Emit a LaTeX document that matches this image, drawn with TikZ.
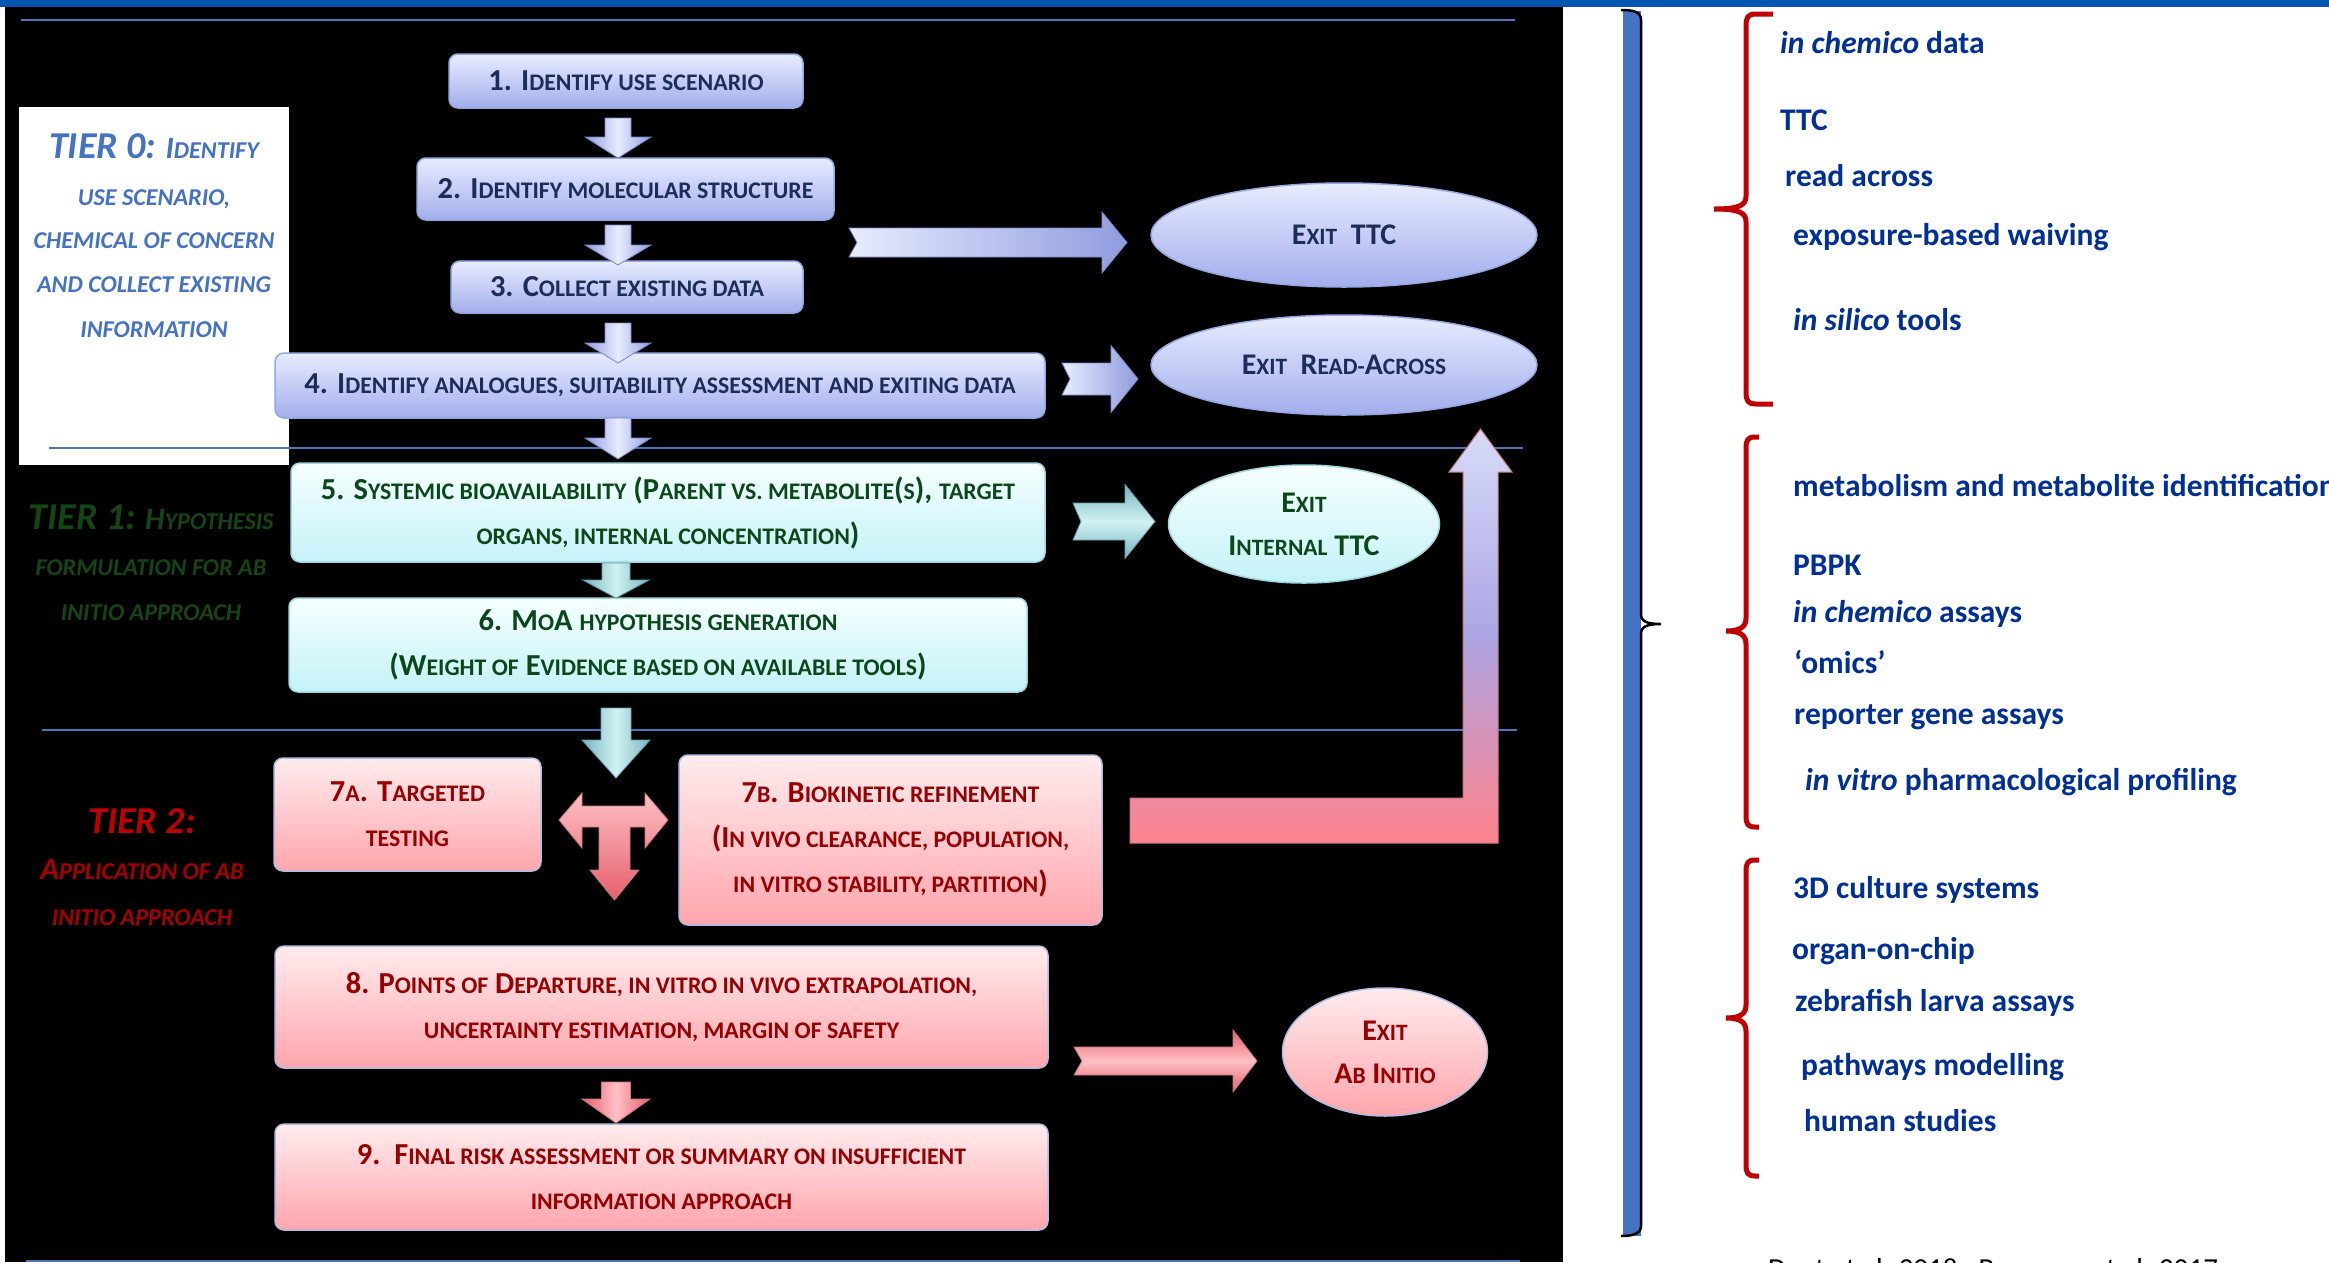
\documentclass[tikz,border=0pt]{standalone}
\usepackage{fontspec}
\setmainfont{Carlito}
\usepackage{graphicx}
\usetikzlibrary{shapes.geometric}

\definecolor{topbar}{RGB}{5,84,176}
\definecolor{tierline}{RGB}{74,118,190}
\definecolor{navytxt}{RGB}{28,45,90}
\definecolor{greentxt}{RGB}{10,72,25}
\definecolor{redtxt}{RGB}{150,0,0}
\definecolor{tierzero}{RGB}{68,114,196}
\definecolor{tierone}{RGB}{20,70,20}
\definecolor{tiertwo}{RGB}{192,0,0}
\definecolor{tiertwod}{RGB}{165,0,0}
\definecolor{listc}{RGB}{0,48,150}
\definecolor{bracered}{RGB}{192,0,0}
\definecolor{barblue}{RGB}{68,114,196}
\definecolor{bbTop}{RGB}{232,236,255}
\definecolor{bbBot}{RGB}{162,174,236}
\definecolor{bbEdge}{RGB}{150,168,225}
\definecolor{cbTop}{RGB}{246,255,255}
\definecolor{cbBot}{RGB}{196,242,247}
\definecolor{cbEdge}{RGB}{160,215,222}
\definecolor{rbTop}{RGB}{255,236,238}
\definecolor{rbBot}{RGB}{255,165,172}
\definecolor{rbEdge}{RGB}{175,190,225}
\definecolor{alDark}{RGB}{145,156,222}
\definecolor{alLight}{RGB}{232,236,255}
\definecolor{alEdge}{RGB}{120,135,200}
\definecolor{acDark}{RGB}{118,182,190}
\definecolor{acLight}{RGB}{210,242,244}
\definecolor{acEdge}{RGB}{100,160,170}
\definecolor{apDark}{RGB}{230,95,108}
\definecolor{apLight}{RGB}{255,192,197}
\definecolor{apEdge}{RGB}{200,120,130}
\definecolor{lTop}{RGB}{215,220,248}
\definecolor{lMid}{RGB}{172,165,228}
\definecolor{lBot}{RGB}{255,130,140}

\newcommand{\smcp}[1]{\scalebox{0.78}{#1}}
\newcommand{\boxfont}{\fontsize{30.5}{45}\selectfont\bfseries}
\newcommand{\ellfont}{\fontsize{30}{43}\selectfont\bfseries}
\newcommand{\tierfont}{\fontsize{31}{43}\selectfont\bfseries\itshape}
\newcommand{\tierbig}{\fontsize{38}{38}\selectfont}
\newcommand{\listfont}{\fontsize{31.5}{38}\selectfont\bfseries}

% down block arrow: style, cx, ytop, yhead, ytip, halfshaft, halfhead
\newcommand{\blockdown}[7]{%
  \path[#1] (#2-#6,#3) -- (#2+#6,#3) -- (#2+#6,#4) -- (#2+#7,#4) -- (#2,#5)
    -- (#2-#7,#4) -- (#2-#6,#4) -- cycle;}
% right block arrow with notched tail: style, cy, xleft, xhead, xtip, halfshaft, halfhead
\newcommand{\blockright}[7]{%
  \path[#1] (#3,#2-#6) -- (#4,#2-#6) -- (#4,#2-#7) -- (#5,#2) -- (#4,#2+#7)
    -- (#4,#2+#6) -- (#3,#2+#6) -- (#3+8,#2) -- cycle;}

\tikzset{
  flowbox/.style={rectangle, rounded corners=9pt, line width=1.5pt, align=center,
    inner sep=0pt, font=\boxfont},
  bluebox/.style={flowbox, top color=bbTop, bottom color=bbBot, draw=bbEdge, text=navytxt},
  cyanbox/.style={flowbox, top color=cbTop, bottom color=cbBot, draw=cbEdge, text=greentxt},
  redbox/.style={flowbox, top color=rbTop, bottom color=rbBot, draw=rbEdge, text=redtxt},
  exitell/.style={ellipse, line width=1.5pt, align=center, inner sep=0pt, font=\ellfont},
  blueell/.style={exitell, top color=bbTop, bottom color=bbBot, draw=bbEdge, text=navytxt},
  cyanell/.style={exitell, top color=cbTop, bottom color=cbBot, draw=cbEdge, text=greentxt},
  redell/.style={exitell, top color=rbTop, bottom color=rbBot, draw=rbEdge, text=redtxt},
  downlav/.style={left color=alDark, right color=alDark, middle color=alLight, draw=alEdge, line width=0.8pt},
  downcyan/.style={left color=acDark, right color=acDark, middle color=acLight, draw=acEdge, line width=0.8pt},
  downpink/.style={left color=apDark, right color=apDark, middle color=apLight, draw=apEdge, line width=0.8pt},
  rightlav/.style={left color=alLight, right color=alDark, draw=alEdge, line width=0.8pt},
  rightcyan/.style={top color=acDark, bottom color=acDark, middle color=acLight, draw=acEdge, line width=0.8pt},
  rightpink/.style={top color=apDark, bottom color=apDark, middle color=apLight, draw=apEdge, line width=0.8pt},
  tiersep/.style={draw=tierline, line width=2.5pt},
  tierlbl/.style={anchor=base, inner sep=0pt, font=\tierfont},
  listitem/.style={anchor=base west, inner sep=0pt, font=\listfont, text=listc},
  redbrace/.style={draw=bracered, line width=5pt},
}

\begin{document}
\begin{tikzpicture}[x=1pt,y=-1pt]
\useasboundingbox (0,0) rectangle (2329,1262);
\fill[white] (0,0) rectangle (2329,1262);
\fill[black] (5,7) rectangle (1563,1262);
\fill[topbar] (0,0) rectangle (2329,7);
\fill[white] (19,107) rectangle (289,465);

% separator lines
\draw[tiersep] (21,20) -- (1515,20);
\draw[tiersep] (49,448) -- (1523,448);
\draw[tiersep] (42,730) -- (1517,730);
\draw[tiersep] (26,1261) -- (1520,1261);

% tier labels
\node[tierlbl, text=tierzero] (t0a) at (154,158) {{\tierbig TIER 0:} I\smcp{DENTIFY}};
\node[tierlbl, text=tierzero] (t0b) at (154,205) {\smcp{USE SCENARIO,}};
\node[tierlbl, text=tierzero] (t0c) at (154,248) {\smcp{CHEMICAL OF CONCERN}};
\node[tierlbl, text=tierzero] (t0d) at (154,292) {\smcp{AND COLLECT EXISTING}};
\node[tierlbl, text=tierzero] (t0e) at (154,337) {\smcp{INFORMATION}};

\node[tierlbl, text=tierone] (t1a) at (151,529) {{\tierbig TIER 1:} H\smcp{YPOTHESIS}};
\node[tierlbl, text=tierone] (t1b) at (151,575) {\smcp{FORMULATION FOR AB}};
\node[tierlbl, text=tierone] (t1c) at (151,620) {\smcp{INITIO APPROACH}};

\node[tierlbl, text=tiertwo] (t2a) at (142,833) {{\tierbig TIER 2:}};
\node[tierlbl, text=tiertwod] (t2b) at (142,879) {A\smcp{PPLICATION OF AB}};
\node[tierlbl, text=tiertwod] (t2c) at (142,925) {\smcp{INITIO APPROACH}};

% boxes
\node[bluebox, minimum width=354pt, minimum height=54pt] (b1) at (626,81) {1. I\smcp{DENTIFY USE SCENARIO}};
\node[bluebox, minimum width=417pt, minimum height=62pt] (b2) at (625.5,189) {2. I\smcp{DENTIFY MOLECULAR STRUCTURE}};
\node[bluebox, minimum width=352pt, minimum height=52pt] (b3) at (627,287) {3. C\smcp{OLLECT EXISTING DATA}};
\node[bluebox, minimum width=770pt, minimum height=65pt] (b4) at (660,385.5) {4. I\smcp{DENTIFY ANALOGUES, SUITABILITY ASSESSMENT AND EXITING DATA}};
\node[cyanbox, minimum width=754pt, minimum height=99pt] (b5) at (668,512.5)
  {5. S\smcp{YSTEMIC BIOAVAILABILITY} (P\smcp{ARENT VS. METABOLITE}(\smcp{S}), \smcp{TARGET}\\
   \smcp{ORGANS, INTERNAL CONCENTRATION})};
\node[cyanbox, minimum width=738pt, minimum height=94pt] (b6) at (658,645)
  {6. M\smcp{O}A \smcp{HYPOTHESIS GENERATION}\\
   (W\smcp{EIGHT OF} E\smcp{VIDENCE BASED ON AVAILABLE TOOLS})};
\node[redbox, minimum width=267pt, minimum height=113pt] (b7a) at (407.5,814.5)
  {7\smcp{A}. T\smcp{ARGETED}\\ \smcp{TESTING}};
\node[redbox, minimum width=423pt, minimum height=170pt] (b7b) at (890.5,840)
  {7\smcp{B}. B\smcp{IOKINETIC REFINEMENT}\\
   (I\smcp{N VIVO CLEARANCE, POPULATION,}\\
   \smcp{IN VITRO STABILITY, PARTITION})};
\node[redbox, minimum width=773pt, minimum height=122pt] (b8) at (661.5,1007)
  {8. P\smcp{OINTS OF} D\smcp{EPARTURE, IN VITRO IN VIVO EXTRAPOLATION,}\\
   \smcp{UNCERTAINTY ESTIMATION, MARGIN OF SAFETY}};
\node[redbox, minimum width=773pt, minimum height=106pt] (b9) at (661.5,1177)
  {9.\ \ F\smcp{INAL RISK ASSESSMENT OR SUMMARY ON INSUFFICIENT}\\
   \smcp{INFORMATION APPROACH}};

% exits
\node[blueell, minimum width=386pt, minimum height=104pt] (e1) at (1344,235) {E\smcp{XIT}\ \ TTC};
\node[blueell, minimum width=386pt, minimum height=100pt] (e2) at (1344,365) {E\smcp{XIT}\ \ R\smcp{EAD-}A\smcp{CROSS}};
\node[cyanell, minimum width=271pt, minimum height=118pt] (e3) at (1304,524) {E\smcp{XIT}\\ I\smcp{NTERNAL} TTC};
\node[redell, minimum width=205pt, minimum height=128pt] (e4) at (1385,1052) {E\smcp{XIT}\\ A\smcp{B} I\smcp{NITIO}};

% down arrows
\blockdown{downlav}{618}{118}{137}{158}{13}{33}
\blockdown{downlav}{618}{225}{245}{265}{13}{33}
\blockdown{downlav}{618}{323}{343}{363}{13}{33}
\blockdown{downlav}{618}{418}{438}{459}{13}{33}
\blockdown{downcyan}{616}{563}{580}{598}{14}{33}
\blockdown{downcyan}{616}{708}{740}{778}{15}{34}
\blockdown{downpink}{616}{1082}{1099}{1123}{14.5}{34}

% right arrows
\blockright{rightlav}{242.5}{849}{1102}{1127}{14.5}{30.5}
\blockright{rightlav}{379}{1062}{1111}{1138}{16}{33.5}
\blockright{rightcyan}{521.5}{1073}{1125}{1155}{18.5}{37}
\blockright{rightpink}{1061}{1074}{1233}{1257}{14}{31}

% T-shaped arrow between 7a and 7b
\path[top color=apLight, bottom color=apDark, draw=apEdge, line width=0.8pt]
  (559,820) -- (582,793) -- (582,806) -- (645,806) -- (645,793) -- (668,820)
  -- (645,848) -- (645,827) -- (630,827) -- (630,870) -- (639,870) -- (614.5,900)
  -- (590,870) -- (599,870) -- (599,827) -- (582,827) -- (582,848) -- cycle;

% L-shaped arrow from 7b back up
\path[top color=lTop, bottom color=lBot, middle color=lMid, draw=apEdge, line width=1pt]
  (1130,798) -- (1463,798) -- (1463,472) -- (1449,472) -- (1480.5,429) -- (1512,472)
  -- (1498,472) -- (1498,843) -- (1130,843) -- cycle;

% right panel: blue bracket bar
\fill[barblue] (1623,11) rectangle (1641,1236);
\draw[black, line width=2.5pt] (1621,10) .. controls (1634,10) and (1641,12) .. (1641,20)
  -- (1641,614) .. controls (1641,621) and (1646,624) .. (1661,624)
  .. controls (1646,624) and (1641,627) .. (1641,634)
  -- (1641,1226) .. controls (1641,1233) and (1634,1236) .. (1621,1236);

% red braces
\draw[redbrace] (1773,14) -- (1756,14) .. controls (1748,14) and (1746,17) .. (1746,26)
  -- (1746,196) .. controls (1746,205) and (1740,209) .. (1714,209)
  .. controls (1740,209) and (1746,213) .. (1746,222)
  -- (1746,392) .. controls (1746,401) and (1748,404) .. (1756,404) -- (1773,404);
\draw[redbrace] (1759,437) -- (1755,437) .. controls (1748,437) and (1746,440) .. (1746,448)
  -- (1746,618) .. controls (1746,627) and (1740,631) .. (1726,631)
  .. controls (1740,631) and (1746,635) .. (1746,644)
  -- (1746,816) .. controls (1746,824) and (1748,827) .. (1755,827) -- (1759,827);
\draw[redbrace] (1759,860) -- (1755,860) .. controls (1748,860) and (1746,863) .. (1746,871)
  -- (1746,1005) .. controls (1746,1014) and (1740,1018) .. (1726,1018)
  .. controls (1740,1018) and (1746,1022) .. (1746,1031)
  -- (1746,1165) .. controls (1746,1173) and (1748,1176) .. (1755,1176) -- (1759,1176);

% right panel list
\node[listitem] (l1) at (1780,53) {\textit{in chemico} data};
\node[listitem] (l2) at (1780,130) {TTC};
\node[listitem] (l3) at (1785,186) {read across};
\node[listitem] (l4) at (1793,245) {exposure-based waiving};
\node[listitem] (l5) at (1793,330) {\textit{in silico} tools};
\node[listitem] (l6) at (1793,496) {metabolism and metabolite identification};
\node[listitem] (l7) at (1793,575) {PBPK};
\node[listitem] (l8) at (1793,622) {\textit{in chemico} assays};
\node[listitem] (l9) at (1794,673) {‘omics’};
\node[listitem] (l10) at (1794,724) {reporter gene assays};
\node[listitem] (l11) at (1805,790) {\textit{in vitro} pharmacological profiling};
\node[listitem] (l12) at (1793,898) {3D culture systems};
\node[listitem] (l13) at (1792,959) {organ-on-chip};
\node[listitem] (l14) at (1795,1011) {zebrafish larva assays};
\node[listitem] (l15) at (1801,1075) {pathways modelling};
\node[listitem] (l16) at (1804,1131) {human studies};

% citation (cut by the page edge, as in the reference)
\node[anchor=base west, inner sep=0pt, font=\fontsize{29}{29}\selectfont, text=black] (cite) at (1768,1278) {Dent et al. 2018 ; Berggren et al. 2017};
\end{tikzpicture}
\end{document}
